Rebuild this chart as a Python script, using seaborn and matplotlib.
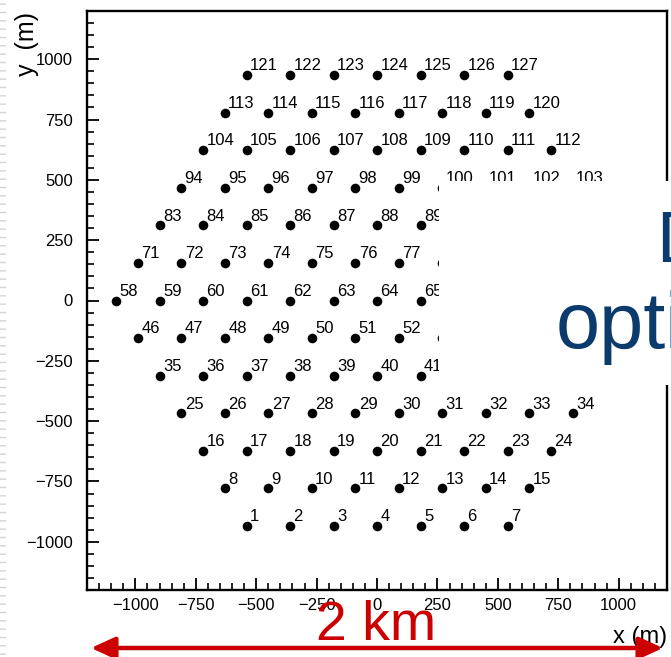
import matplotlib
matplotlib.use("Agg")
import matplotlib.pyplot as plt
from matplotlib.patches import Rectangle, FancyArrowPatch
from matplotlib.ticker import MultipleLocator
import seaborn as sns
import pandas as pd

# ---- data (station positions in metres, read row by row, bottom to top) ----
row_y = [-935, -779, -624, -468, -312, -156, 0, 156, 312, 468, 624, 779, 935]
row_x = [
    [-540, -360, -180, 0, 180, 360, 540],
    [-630, -450, -270, -90, 90, 270, 450, 630],
    [-720, -540, -360, -180, 0, 180, 360, 540, 720],
    [-810, -630, -450, -270, -90, 90, 270, 450, 630, 810],
    [-900, -720, -540, -360, -180, 0, 180, 360, 540, 720, 900],
    [-990, -810, -630, -450, -270, -90, 90, 270, 450, 630, 810, 990],
    [-1080, -900, -720, -540, -360, -180, 0, 180, 360, 540, 720, 900, 1080],
    [-990, -810, -630, -450, -270, -90, 90, 270, 450, 630, 810, 990],
    [-900, -720, -540, -360, -180, 0, 180, 360, 540, 720, 900],
    [-810, -630, -450, -270, -90, 90, 270, 450, 630, 810],
    [-720, -540, -360, -180, 0, 180, 360, 540, 720],
    [-630, -450, -270, -90, 90, 270, 450, 630],
    [-540, -360, -180, 0, 180, 360, 540],
]
x_ticks = [-1000, -750, -500, -250, 0, 250, 500, 750, 1000]
y_ticks = [-1000, -750, -500, -250, 0, 250, 500, 750, 1000]
x_label = "x (m)"
y_label = "y  (m)"
overlay_word1 = "D"
overlay_word2 = "opti"
scale_text = "2 km"

xs, ys, ids = [], [], []
n = 0
for yv, xrow in zip(row_y, row_x):
    for xv in xrow:
        n += 1
        xs.append(xv)
        ys.append(yv)
        ids.append(n)
df = pd.DataFrame({"x": xs, "y": ys, "id": ids})

# ---- style ----
sns.set_style("ticks")
plt.rcParams["font.family"] = ["Liberation Sans", "DejaVu Sans"]
plt.rcParams["text.color"] = "black"

W, H = 671, 657
fig = plt.figure(figsize=(W / 100, H / 100), dpi=100)
fig.patch.set_facecolor("white")
ax = fig.add_axes([87 / W, 1 - 590 / H, 580 / W, 579 / H])
ax.set_facecolor("white")

sns.scatterplot(data=df, x="x", y="y", color="black", s=48, linewidth=0,
                edgecolor="black", ax=ax, legend=False, zorder=3)

for xv, yv, i in zip(df["x"], df["y"], df["id"]):
    ax.annotate(str(i), (xv, yv), xytext=(2.5, 3.4), textcoords="offset points",
                ha="left", va="baseline", fontsize=12, color="black", zorder=4)

ax.set_xlim(-1200, 1200)
ax.set_ylim(-1200, 1200)
ax.set_xticks(x_ticks)
ax.set_yticks(y_ticks)
ax.set_xticklabels([str(v).replace("-", "\u2212") for v in x_ticks])
ax.set_yticklabels([str(v).replace("-", "\u2212") for v in y_ticks])
ax.xaxis.set_minor_locator(MultipleLocator(50))
ax.yaxis.set_minor_locator(MultipleLocator(50))
ax.tick_params(which="major", direction="in", length=8.5, width=1.3,
               labelsize=12, color="black", labelcolor="black")
ax.tick_params(axis="x", which="major", pad=6)
ax.tick_params(axis="y", which="major", pad=10)
ax.tick_params(which="minor", direction="in", length=5, width=1.2, color="black")
ax.tick_params(top=False, right=False, which="both")
for sp in ax.spines.values():
    sp.set_visible(True)
    sp.set_linewidth(1.7)
    sp.set_color("black")
ax.set_xlabel("")
ax.set_ylabel("")

# axis titles (ROOT style placement)
fig.text(667 / W, 1 - 643 / H, x_label, ha="right", va="baseline", fontsize=17,
         color="black")
fig.text(27 / W, 1 - 12 / H, y_label, ha="center", va="top", rotation=90,
         fontsize=18, color="black")

# left slide-edge stripes
fig.add_artist(Rectangle((0, 0), 6 / W, 1, transform=fig.transFigure,
                         facecolor="none", edgecolor="#d4d4d4", hatch="--",
                         linewidth=0, zorder=5))

# white overlay box with partially hidden slide text
fig.add_artist(Rectangle((439 / W, 1 - 385 / H), (W - 439) / W, 204 / H,
                         transform=fig.transFigure, facecolor="white",
                         edgecolor="none", zorder=10))
navy = "#0b3a6c"
fig.text(656 / W, 1 - 262 / H, overlay_word1, ha="left", va="baseline",
         fontsize=52, color=navy, zorder=11)
fig.text(556 / W, 1 - 348 / H, overlay_word2, ha="left", va="baseline",
         fontsize=57, color=navy, zorder=11)

# red scale arrow and label
red = "#cc0000"
arrow = FancyArrowPatch((91 / W, 1 - 648 / H), (663 / W, 1 - 648 / H),
                        transform=fig.transFigure,
                        arrowstyle="<|-|>,head_length=1.2,head_width=0.55",
                        mutation_scale=12, color=red, linewidth=3.2,
                        shrinkA=0, shrinkB=0, zorder=12)
fig.add_artist(arrow)
fig.text(316 / W, 1 - 640 / H, scale_text, ha="left", va="baseline",
         fontsize=40, color=red, zorder=12)

fig.savefig("out.png", dpi=100)
